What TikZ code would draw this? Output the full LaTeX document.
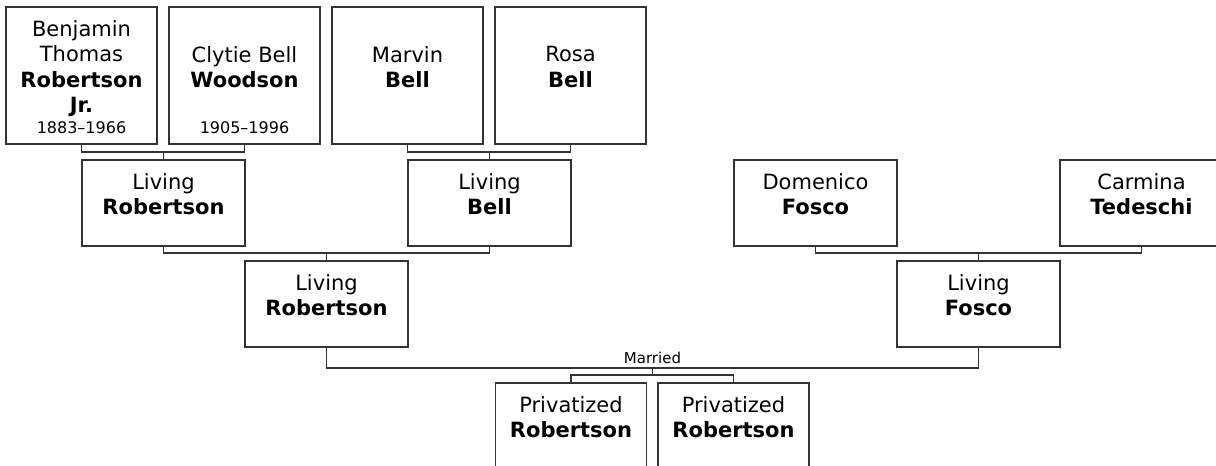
\documentclass[tikz,border=0pt]{standalone}
\usepackage{fontspec}
\setmainfont{DejaVu Sans}
\usepackage{tikz}

\tikzset{
  person/.style={draw=black!80, line width=1.1pt, inner sep=0pt, minimum width=163, minimum height=86},
  elder/.style={person, minimum width=151, minimum height=137},
  kid/.style={person, minimum width=151},
  fullname/.style={anchor=north, align=center, inner sep=0pt, font=\fontsize{21}{25.5}\selectfont},
  lifespan/.style={anchor=base, inner sep=0pt, font=\fontsize{16}{19}\selectfont},
  famline/.style={draw=black!80, line width=1.1pt},
}

\begin{document}
\begin{tikzpicture}[x=1pt,y=1pt,yscale=-1]
        \useasboundingbox (0,0) rectangle (1216,466);
        \clip (0,0) rectangle (1216,466);

        %Shape: Rectangle [great-grandparents]
        \node [elder] (ben) at (81.5,75.5) {};
        \node [elder] (cly) at (244.5,75.5) {};
        \node [elder] (mar) at (407.5,75.5) {};
        \node [elder] (ros) at (570.5,75.5) {};
        %Shape: Rectangle [grandparents]
        \node [person] (livrA) at (163.5,203) {};
        \node [person] (livb) at (489.5,203) {};
        \node [person] (dom) at (815.5,203) {};
        \node [person] (car) at (1141.5,203) {};
        %Shape: Rectangle [parents]
        \node [person] (livrB) at (326.5,304) {};
        \node [person] (livf) at (978.5,304) {};
        %Shape: Rectangle [children]
        \node [kid] (chA) at (571,426) {};
        \node [kid] (chB) at (733.5,426) {};

        % joints
        \coordinate (jA) at (163.5,152);
        \coordinate (jB) at (489.5,152);
        \coordinate (jC) at (326.5,253);
        \coordinate (jD) at (978.5,253);
        \coordinate (jE) at (652.5,368);
        \coordinate (jF) at (652.5,375);

        %Straight Lines
        \draw [famline] (ben.south) |- (jA) -| (cly.south);
        \draw [famline] (jA) -- (livrA.north);
        \draw [famline] (mar.south) |- (jB) -| (ros.south);
        \draw [famline] (jB) -- (livb.north);
        \draw [famline] (livrA.south) |- (jC) -| (livb.south);
        \draw [famline] (jC) -- (livrB.north);
        \draw [famline] (dom.south) |- (jD) -| (car.south);
        \draw [famline] (jD) -- (livf.north);
        \draw [famline] (livrB.south) |- (jE) -| (livf.south);
        \draw [famline] (jE) -- (jF);
        \draw [famline] (chA.north) |- (jF) -| (chB.north);

        % Text Node
        \node [fullname] (benN) at (81.5,20) {Benjamin\\Thomas\\\textbf{Robertson}\\\textbf{Jr.}};
        % Text Node
        \node [lifespan] (benY) at (81.5,133) {1883–1966};
        % Text Node
        \node [fullname] (clyN) at (244.5,46) {Clytie Bell\\\textbf{Woodson}};
        % Text Node
        \node [lifespan] (clyY) at (244.5,133) {1905–1996};
        % Text Node
        \node [fullname] (marN) at (407.5,46) {Marvin\\\textbf{Bell}};
        % Text Node
        \node [fullname] (rosN) at (570.5,46) {Rosa\\\textbf{Bell}};
        % Text Node
        \node [fullname] (livrAN) at (163.5,173) {Living\\\textbf{Robertson}};
        % Text Node
        \node [fullname] (livbN) at (489.5,173) {Living\\\textbf{Bell}};
        % Text Node
        \node [fullname] (domN) at (815.5,173) {Domenico\\\textbf{Fosco}};
        % Text Node
        \node [fullname] (carN) at (1141.5,173) {Carmina\\\textbf{Tedeschi}};
        % Text Node
        \node [fullname] (livrBN) at (326.5,274) {Living\\\textbf{Robertson}};
        % Text Node
        \node [fullname] (livfN) at (978.5,274) {Living\\\textbf{Fosco}};
        % Text Node
        \node [fullname] (chAN) at (571,396) {Privatized\\\textbf{Robertson}};
        % Text Node
        \node [fullname] (chBN) at (733.5,396) {Privatized\\\textbf{Robertson}};
        % Text Node
        \node [anchor=base, inner sep=0pt, font=\fontsize{15}{18}\selectfont] (married) at (652.5,363) {Married};

\end{tikzpicture}
\end{document}
